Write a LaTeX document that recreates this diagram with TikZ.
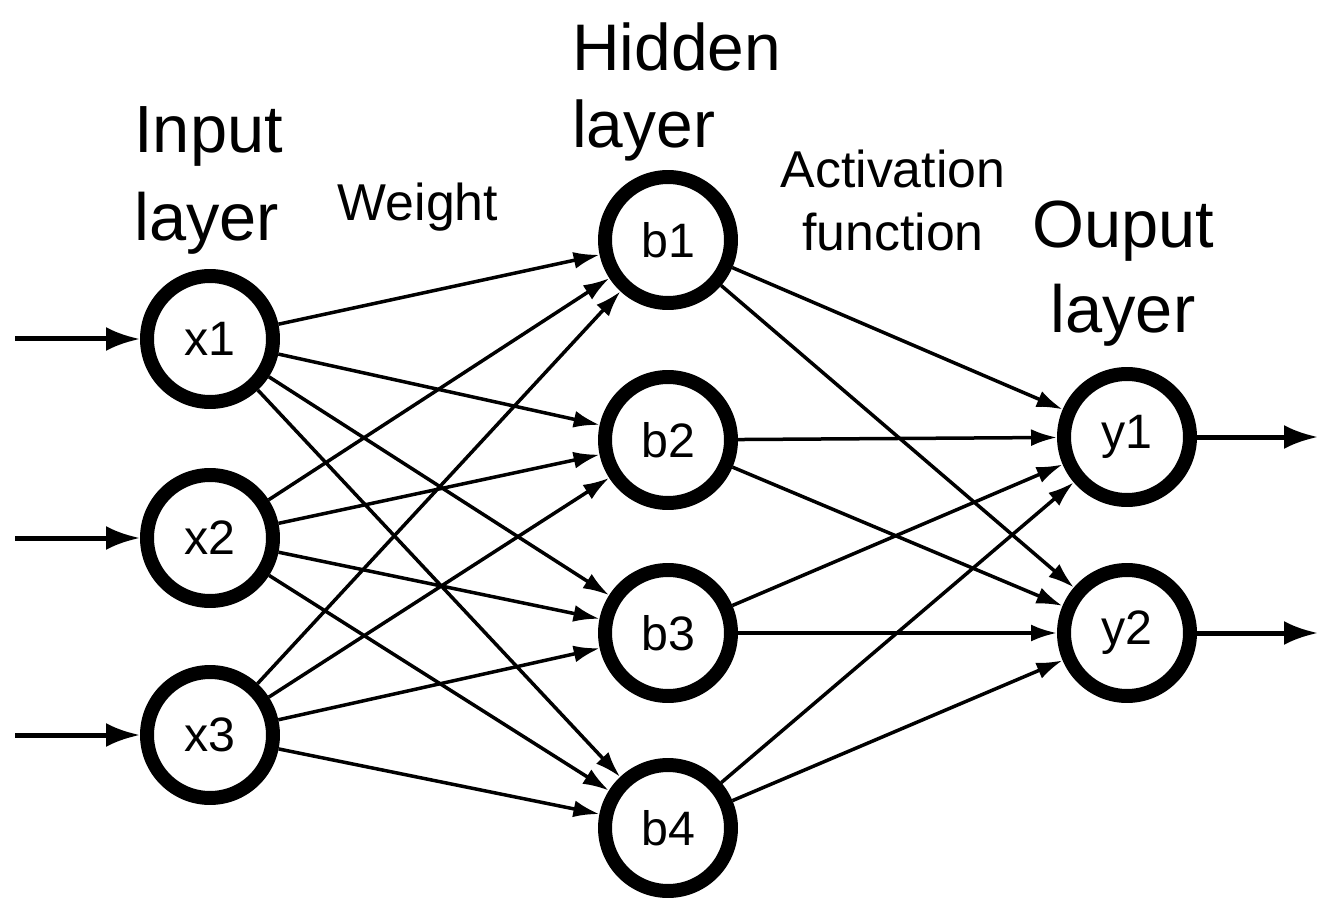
\documentclass[tikz,border=0pt]{standalone}
\usepackage{fontspec}
\setmainfont{Liberation Sans}
\usetikzlibrary{arrows.meta}

\tikzset{
  neuron/.style={circle, draw, line width=0.28cm, minimum size=2.52cm,
    inner sep=0pt, font=\fontsize{27.5}{32}\selectfont},
  weight/.style={->, line width=0.07cm,
    >={Latex[length=0.52cm,width=0.34cm]}},
  signal/.style={->, line width=0.1cm,
    >={Latex[length=0.68cm,width=0.48cm]}},
  layertitle/.style={inner sep=0pt, font=\fontsize{37.5}{44}\selectfont},
  smalltitle/.style={inner sep=0pt, align=center,
    font=\fontsize{29.5}{35.8}\selectfont},
}

\begin{document}
\begin{tikzpicture}[x=0.02cm, y=-0.02cm]
\useasboundingbox (0,0) rectangle (1318,898);

% neurons
\node[neuron] (x1) at (210,339) {x1};
\node[neuron] (x2) at (210,538) {x2};
\node[neuron] (x3) at (210,735) {x3};
\node[neuron] (b1) at (668,240) {b1};
\node[neuron] (b2) at (668,440) {b2};
\node[neuron] (b3) at (668,633) {b3};
\node[neuron] (b4) at (668,828) {b4};
\node[neuron] (y1) at (1127,437) {y1};
\node[neuron] (y2) at (1127,633) {y2};

% titles
\node[layertitle, align=left, anchor=north west, font=\fontsize{38}{50}\selectfont]
  (inputtitle) at (134,106) {Input\\layer};
\node[layertitle, align=left, anchor=north west] (hiddentitle) at (572,22) {Hidden\\layer};
\node[layertitle, align=center, anchor=north, font=\fontsize{38}{48}\selectfont]
  (outputtitle) at (1123,201) {Ouput\\layer};
\node[smalltitle, anchor=north] (weighttitle) at (418,183) {Weight};
\node[smalltitle, anchor=north] (activationtitle) at (893,150) {Activation\\function};

% inputs and outputs
\coordinate (in1) at (15,339);
\coordinate (in2) at (15,538);
\coordinate (in3) at (15,735);
\coordinate (out1) at (1318,437);
\coordinate (out2) at (1318,633);
\draw[signal] (in1) -- (x1);
\draw[signal] (in2) -- (x2);
\draw[signal] (in3) -- (x3);
\draw[signal] (y1) -- (out1);
\draw[signal] (y2) -- (out2);

% input -> hidden
\draw[weight] (x1) -- (b1);
\draw[weight] (x1) -- (b2);
\draw[weight] (x1) -- (b3);
\draw[weight] (x1) -- (b4);
\draw[weight] (x2) -- (b1);
\draw[weight] (x2) -- (b2);
\draw[weight] (x2) -- (b3);
\draw[weight] (x2) -- (b4);
\draw[weight] (x3) -- (b1);
\draw[weight] (x3) -- (b2);
\draw[weight] (x3) -- (b3);
\draw[weight] (x3) -- (b4);

% hidden -> output
\draw[weight] (b1) -- (y1);
\draw[weight] (b1) -- (y2);
\draw[weight] (b2) -- (y1);
\draw[weight] (b2) -- (y2);
\draw[weight] (b3) -- (y1);
\draw[weight] (b3) -- (y2);
\draw[weight] (b4) -- (y1);
\draw[weight] (b4) -- (y2);
\end{tikzpicture}
\end{document}
